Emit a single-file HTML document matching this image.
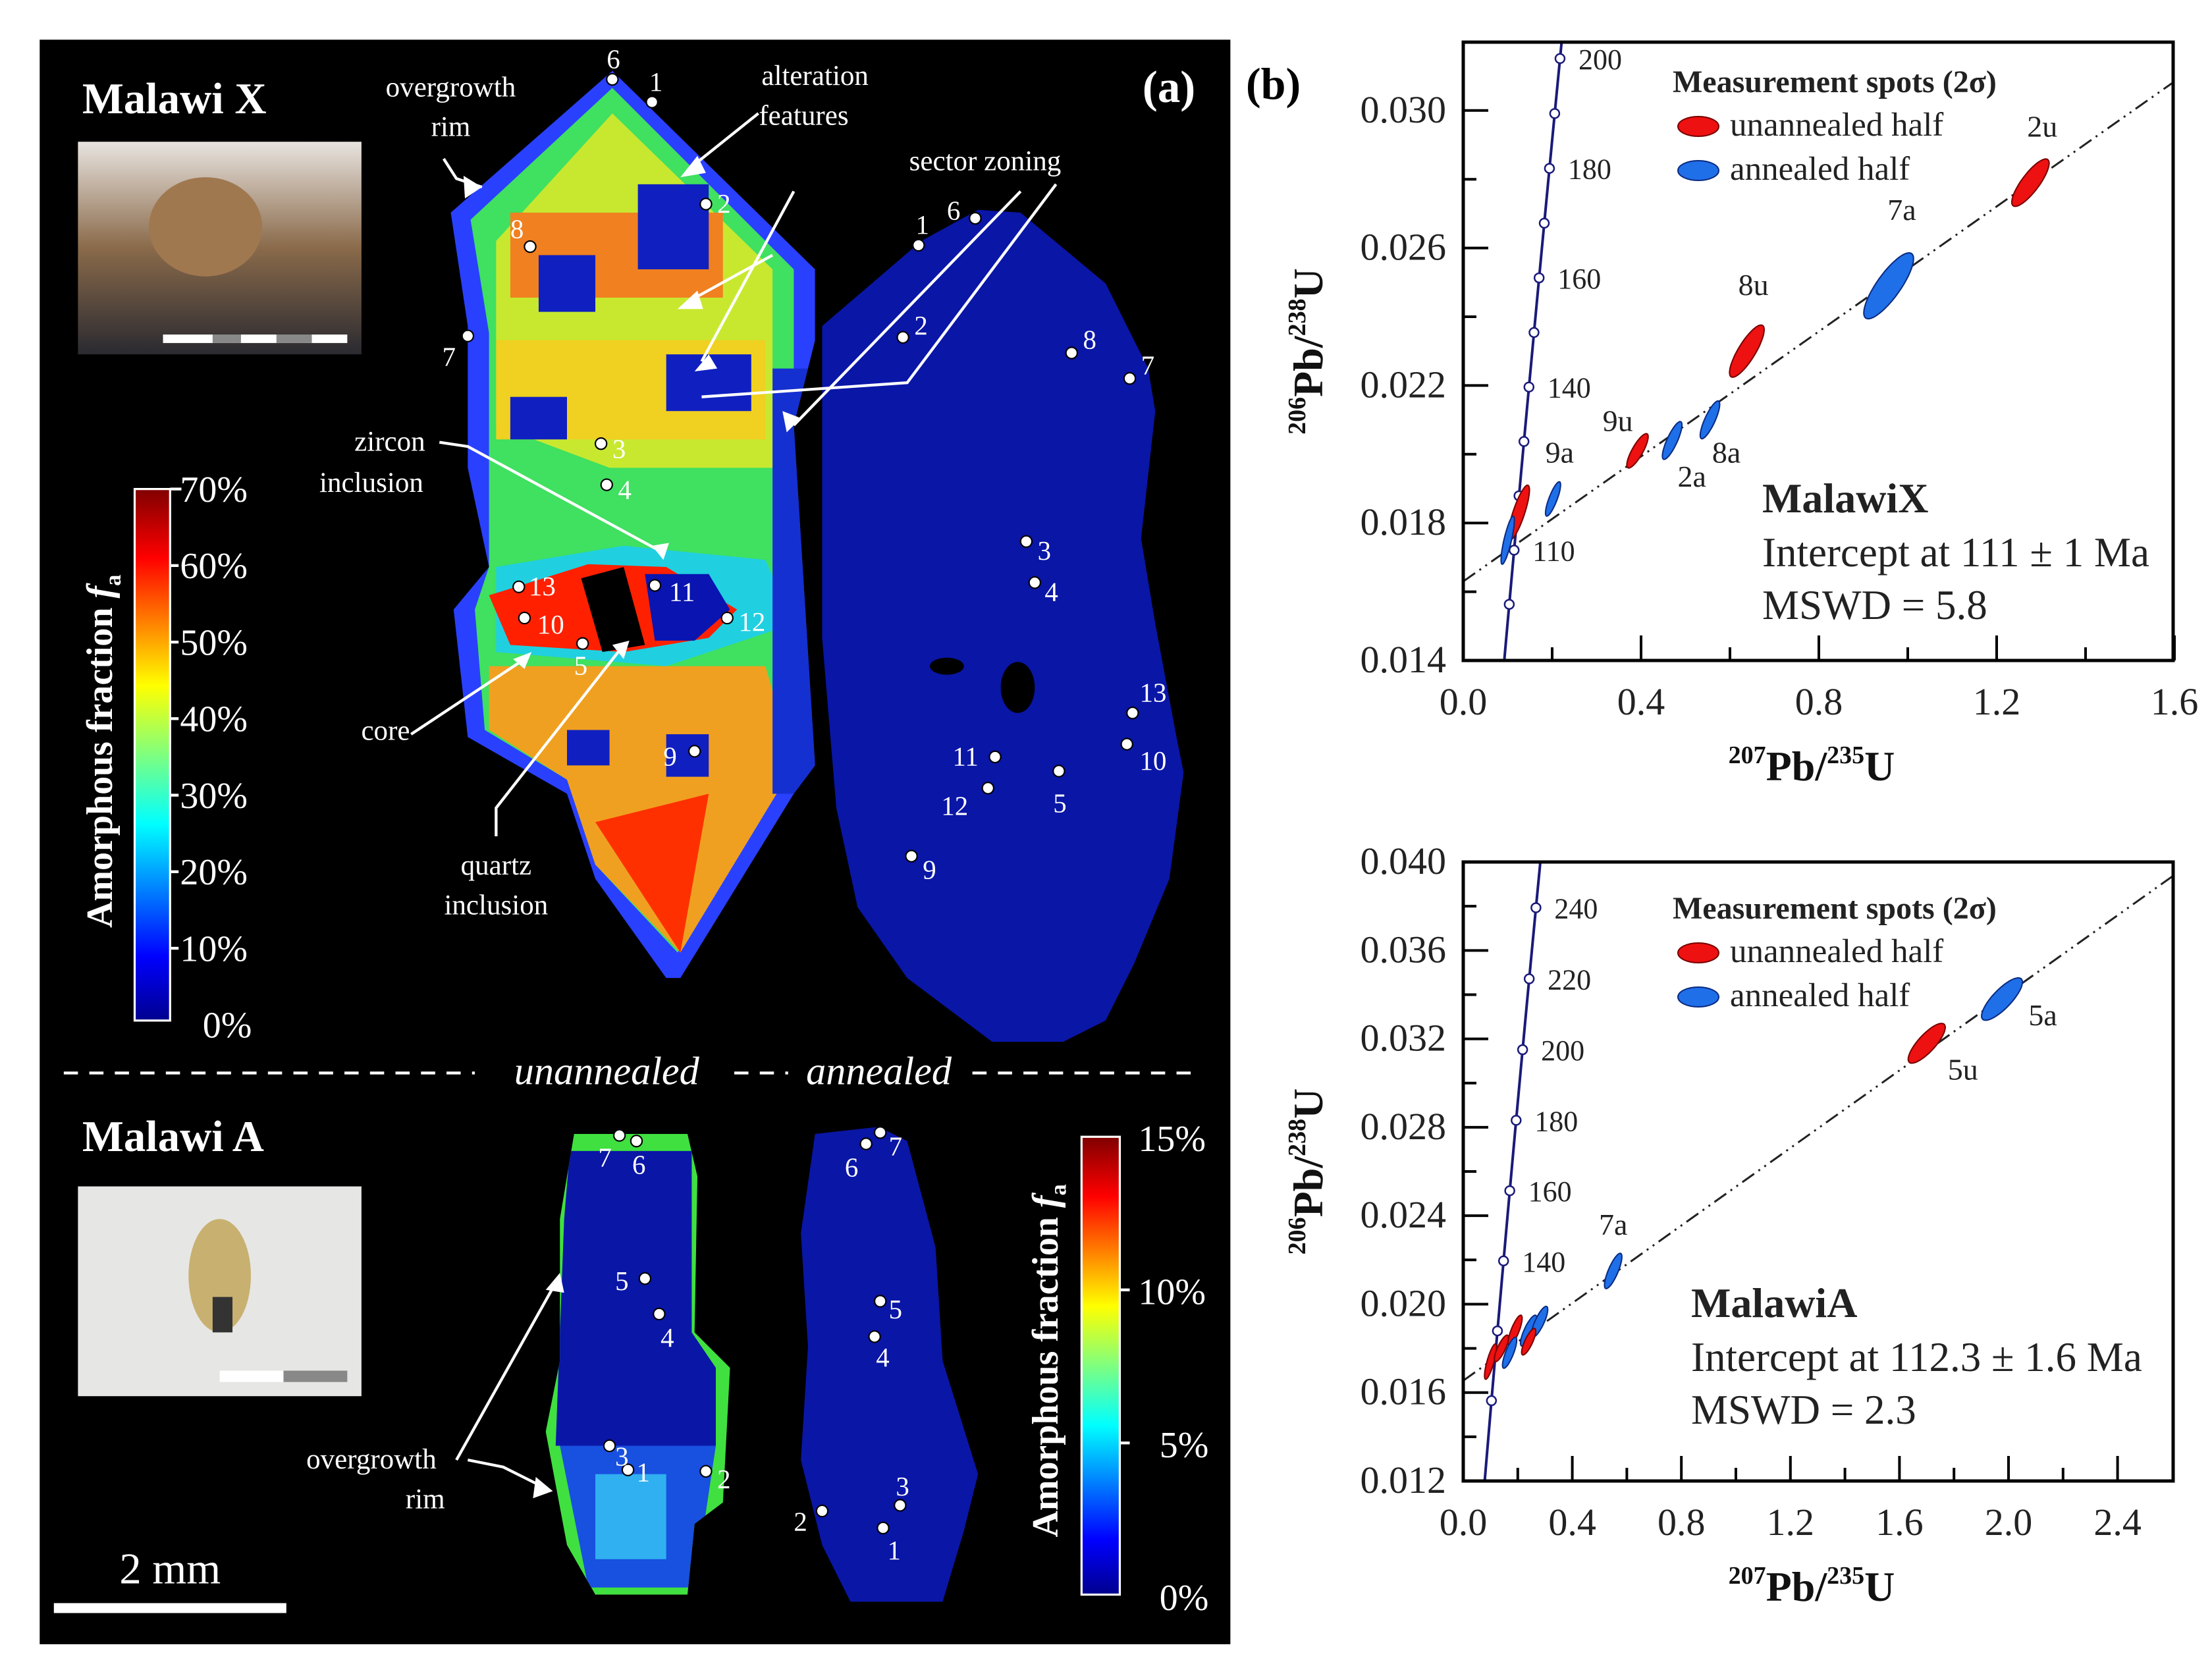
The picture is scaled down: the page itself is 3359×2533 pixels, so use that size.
<!DOCTYPE html>
<html><head><meta charset="utf-8">
<style>
html,body{margin:0;padding:0;background:#fff;}
svg{display:block;font-family:"Liberation Serif",serif;}
</style></head>
<body>
<svg id="fig" xmlns="http://www.w3.org/2000/svg" width="3359" height="2533" viewBox="0 0 3359 2533">
<defs>
<linearGradient id="jet" x1="0" y1="1" x2="0" y2="0">
<stop offset="0" stop-color="#00008f"/><stop offset="0.12" stop-color="#0000ff"/><stop offset="0.37" stop-color="#00ffff"/><stop offset="0.5" stop-color="#7fff7f"/><stop offset="0.63" stop-color="#ffff00"/><stop offset="0.87" stop-color="#ff0000"/><stop offset="1" stop-color="#800000"/>
</linearGradient>
<clipPath id="cx"><polygon points="432,50 575,190 575,240 560,300 575,540 560,560 480,690 470,690 420,620 400,560 330,520 320,430 345,400 330,330 330,230 318,150"/></clipPath>
<clipPath id="ca"><polygon points="405,800 485,800 492,830 490,940 515,965 510,1060 490,1075 485,1125 420,1125 400,1090 385,1010 395,960 395,860"/></clipPath>
<linearGradient id="photo1" x1="0" y1="0" x2="0" y2="1"><stop offset="0" stop-color="#e8e4e0"/><stop offset="0.5" stop-color="#8a6a4a"/><stop offset="1" stop-color="#2a2a30"/></linearGradient>
</defs>
<rect width="3359" height="2533" fill="#fff"/>
<g transform="scale(2.1525)">
<rect x="28" y="28" width="840" height="1132" fill="#000"/>
<g clip-path="url(#cx)">
<rect x="300" y="40" width="300" height="660" fill="#2a40ff"/>
<polygon points="432,62 560,190 560,540 478,672 420,610 400,550 342,515 335,430 345,400 345,235 332,155" fill="#40e060"/>
<polygon points="432,80 545,190 545,330 430,330 350,300 350,170" fill="#c8e830"/>
<rect x="360" y="150" width="150" height="60" fill="#f08020"/>
<rect x="350" y="240" width="190" height="70" fill="#f0d020"/>
<rect x="380" y="180" width="40" height="40" fill="#1020c0"/>
<rect x="450" y="130" width="50" height="60" fill="#1020c0"/>
<rect x="470" y="250" width="60" height="40" fill="#1020c0"/>
<rect x="360" y="280" width="40" height="30" fill="#1020c0"/>
<polygon points="350,400 440,385 540,395 560,440 470,470 350,460" fill="#20d0e0"/>
<polygon points="345,420 415,398 470,400 520,430 500,450 440,460 360,455" fill="#ff2000"/>
<polygon points="410,408 440,400 455,455 425,460" fill="#000"/>
<polygon points="455,405 500,405 515,430 490,452 462,452" fill="#0a14b0"/>
<polygon points="345,470 540,470 560,540 480,672 420,610 400,550 345,515" fill="#f0a020"/>
<polygon points="420,580 500,560 480,672" fill="#ff3000"/>
<rect x="400" y="515" width="30" height="25" fill="#1020c0"/>
<rect x="470" y="518" width="30" height="30" fill="#1020c0"/>
<rect x="545" y="260" width="35" height="300" fill="#1530d0"/>
</g>
<polygon points="580,230 650,170 690,148 720,150 780,200 810,260 815,290 805,380 815,440 830,520 835,545 825,620 800,680 780,720 750,735 700,735 640,690 605,640 590,570 580,450" fill="#0a16a6"/>
<ellipse cx="668" cy="470" rx="12" ry="6" fill="#000"/><ellipse cx="718" cy="485" rx="12" ry="18" fill="#000"/>
<g clip-path="url(#ca)">
<rect x="380" y="790" width="140" height="340" fill="#40e040"/>
<polygon points="402,812 488,812 488,940 505,965 505,1020 392,1020 398,860" fill="#0a16a6"/>
<polygon points="395,1020 505,1020 490,1120 415,1120" fill="#1850e0"/>
<rect x="420" y="1040" width="50" height="60" fill="#30b0f0"/>
</g>
<polygon points="575,800 620,795 640,805 660,880 665,960 690,1040 680,1080 665,1130 600,1130 580,1090 565,1030 570,950 565,870" fill="#0a16a6"/>
<rect x="55" y="100" width="200" height="150" fill="url(#photo1)"/>
<ellipse cx="145" cy="160" rx="40" ry="35" fill="#a07850"/>
<rect x="115" y="236" width="130" height="6" fill="#fff"/><rect x="150" y="236" width="20" height="6" fill="#888"/><rect x="195" y="236" width="25" height="6" fill="#888"/>
<rect x="55" y="837" width="200" height="148" fill="#e6e6e4"/>
<ellipse cx="155" cy="900" rx="22" ry="40" fill="#c8b070"/><rect x="150" y="915" width="14" height="25" fill="#333"/>
<rect x="155" y="967" width="45" height="8" fill="#fff"/><rect x="200" y="967" width="45" height="8" fill="#888"/>
<rect x="95" y="345" width="25" height="375" fill="url(#jet)" stroke="#fff" stroke-width="1.5"/>
<rect x="763" y="802" width="27" height="323" fill="url(#jet)" stroke="#fff" stroke-width="1.5"/>
<g fill="#fff" font-size="26">
<text x="127" y="354">70%</text><text x="127" y="408">60%</text><text x="127" y="462">50%</text><text x="127" y="516">40%</text><text x="127" y="570">30%</text><text x="127" y="624">20%</text><text x="127" y="678">10%</text><text x="143" y="732">0%</text>
<text x="803" y="812">15%</text><text x="803" y="920">10%</text><text x="818" y="1028">5%</text><text x="818" y="1136">0%</text>
</g>
<g stroke="#fff" stroke-width="2">
<line x1="120" y1="345" x2="128" y2="345"/><line x1="120" y1="399" x2="126" y2="399"/><line x1="120" y1="453" x2="126" y2="453"/><line x1="120" y1="507" x2="126" y2="507"/><line x1="120" y1="561" x2="126" y2="561"/><line x1="120" y1="615" x2="126" y2="615"/><line x1="120" y1="669" x2="126" y2="669"/>
<line x1="790" y1="910" x2="797" y2="910"/><line x1="790" y1="1018" x2="797" y2="1018"/>
</g>
<text transform="translate(79,530) rotate(-90)" text-anchor="middle" fill="#fff" font-size="26" font-weight="bold">Amorphous fraction <tspan font-style="italic">f</tspan><tspan font-size="16" dy="6">a</tspan></text>
<text transform="translate(746,960) rotate(-90)" text-anchor="middle" fill="#fff" font-size="26" font-weight="bold">Amorphous fraction <tspan font-style="italic">f</tspan><tspan font-size="16" dy="6">a</tspan></text>
<g fill="#fff">
<text x="58" y="80" font-size="31" font-weight="bold">Malawi X</text>
<text x="58" y="812" font-size="31" font-weight="bold">Malawi A</text>
<text x="806" y="72" font-size="32" font-weight="bold">(a)</text>
<g font-size="20" text-anchor="middle">
<text x="318" y="68">overgrowth</text><text x="318" y="96">rim</text>
<text x="575" y="60">alteration</text><text x="567" y="88">features</text>
<text x="695" y="120">sector zoning</text>
<text x="275" y="318">zircon</text><text x="262" y="347">inclusion</text>
<text x="272" y="522">core</text>
<text x="350" y="617">quartz</text><text x="350" y="645">inclusion</text>
<text x="262" y="1036">overgrowth</text><text x="300" y="1064">rim</text>
</g>
<text x="428" y="765" font-size="28" font-style="italic" text-anchor="middle">unannealed</text>
<text x="620" y="765" font-size="28" font-style="italic" text-anchor="middle">annealed</text>
<text x="120" y="1117" font-size="31" text-anchor="middle">2 mm</text>
</g>
<rect x="38" y="1131" width="164" height="7" fill="#fff"/>
<g stroke="#fff" stroke-width="2" stroke-dasharray="10,8">
<line x1="45" y1="757" x2="335" y2="757"/><line x1="518" y1="757" x2="556" y2="757"/><line x1="686" y1="757" x2="848" y2="757"/>
</g>
<g stroke="#fff" stroke-width="2" fill="none">
<polyline points="313,112 322,126 340,132"/><polyline points="535,80 485,120"/><polyline points="545,180 485,213"/><polyline points="560,135 495,255 "/><polyline points="745,130 640,270 495,280"/><polyline points="720,135 560,300"/>
<polyline points="310,312 330,315 468,390"/><polyline points="290,518 370,465"/><polyline points="350,590 350,570 440,455"/><polyline points="330,1030 355,1035 385,1050"/><polyline points="322,1030 392,905"/>
</g>
<g fill="#fff">
<polygon points="340,132 327,124 328,140"/><polygon points="480,125 492,110 498,122"/><polygon points="478,218 492,205 496,218"/><polygon points="490,262 500,250 506,260"/><polygon points="555,305 552,290 565,295"/><polygon points="468,395 460,385 472,383"/><polygon points="375,460 362,465 370,472"/><polygon points="444,452 432,455 440,465"/><polygon points="390,1052 378,1042 376,1057"/><polygon points="395,898 385,910 398,912"/>
</g>
<g fill="#fff" stroke="#000" stroke-width="1">
<circle cx="432" cy="56" r="4"/><circle cx="460" cy="72" r="4"/><circle cx="498" cy="144" r="4"/><circle cx="374" cy="174" r="4"/><circle cx="330" cy="237" r="4"/><circle cx="424" cy="313" r="4"/><circle cx="428" cy="342" r="4"/><circle cx="366" cy="414" r="4"/><circle cx="370" cy="436" r="4"/><circle cx="411" cy="454" r="4"/><circle cx="462" cy="413" r="4"/><circle cx="513" cy="436" r="4"/><circle cx="490" cy="530" r="4"/>
<circle cx="648" cy="173" r="4"/><circle cx="688" cy="154" r="4"/><circle cx="637" cy="238" r="4"/><circle cx="756" cy="249" r="4"/><circle cx="797" cy="267" r="4"/><circle cx="724" cy="382" r="4"/><circle cx="730" cy="411" r="4"/><circle cx="799" cy="503" r="4"/><circle cx="795" cy="525" r="4"/><circle cx="702" cy="534" r="4"/><circle cx="697" cy="556" r="4"/><circle cx="747" cy="544" r="4"/><circle cx="643" cy="604" r="4"/>
<circle cx="437" cy="801" r="4"/><circle cx="449" cy="805" r="4"/><circle cx="455" cy="902" r="4"/><circle cx="465" cy="927" r="4"/><circle cx="430" cy="1020" r="4"/><circle cx="443" cy="1037" r="4"/><circle cx="498" cy="1038" r="4"/>
<circle cx="621" cy="799" r="4"/><circle cx="611" cy="807" r="4"/><circle cx="621" cy="918" r="4"/><circle cx="617" cy="943" r="4"/><circle cx="635" cy="1062" r="4"/><circle cx="580" cy="1066" r="4"/><circle cx="623" cy="1078" r="4"/>
</g>
<g fill="#fff" font-size="19">
<text x="428" y="48">6</text><text x="458" y="64">1</text><text x="506" y="150">2</text><text x="360" y="168">8</text><text x="312" y="258">7</text><text x="432" y="323">3</text><text x="436" y="352">4</text><text x="373" y="420">13</text><text x="379" y="447">10</text><text x="405" y="476">5</text><text x="472" y="424">11</text><text x="521" y="445">12</text><text x="468" y="540">9</text>
<text x="646" y="165">1</text><text x="668" y="155">6</text><text x="645" y="236">2</text><text x="764" y="246">8</text><text x="805" y="264">7</text><text x="732" y="395">3</text><text x="737" y="424">4</text><text x="804" y="495">13</text><text x="804" y="543">10</text><text x="672" y="540">11</text><text x="664" y="575">12</text><text x="743" y="573">5</text><text x="651" y="620">9</text>
<text x="422" y="823">7</text><text x="446" y="828">6</text><text x="434" y="910">5</text><text x="466" y="950">4</text><text x="434" y="1034">3</text><text x="449" y="1045">1</text><text x="506" y="1050">2</text>
<text x="596" y="830">6</text><text x="627" y="815">7</text><text x="627" y="930">5</text><text x="618" y="964">4</text><text x="632" y="1055">3</text><text x="560" y="1080">2</text><text x="626" y="1100">1</text>
</g>
</g>
<text x="1892" y="150" font-size="68" font-weight="bold">(b)</text>
<g id="charts"></g>
<script>
// ===== top chart (Malawi X) data =====
var topYTicks = [0.014, 0.018, 0.022, 0.026, 0.030];
var topYTickLabels = ["0.014", "0.018", "0.022", "0.026", "0.030"];
var topXTicks = [0.0, 0.4, 0.8, 1.2, 1.6];
var topXTickLabels = ["0.0", "0.4", "0.8", "1.2", "1.6"];
var topAgeLabels = [110, 140, 160, 180, 200];
var topSpotNames = ["2u", "7a", "8u", "8a", "2a", "9u", "9a", "", ""];
var topSpotType = ["u", "a", "u", "a", "a", "u", "a", "u", "a"];
var topX207 = [1.276, 0.957, 0.638, 0.555, 0.470, 0.392, 0.202, 0.125, 0.100];
var topY206 = [0.0279, 0.0249, 0.0230, 0.0210, 0.0204, 0.0201, 0.0187, 0.0183, 0.0175];
var topSX = [0.042, 0.056, 0.039, 0.022, 0.022, 0.024, 0.017, 0.024, 0.015];
var topSY = [0.00069, 0.00096, 0.00076, 0.00055, 0.00055, 0.00050, 0.00050, 0.00080, 0.00070];
var topDiscordia = [0.0163, 0.00909];
// ===== bottom chart (Malawi A) data =====
var botYTicks = [0.012, 0.016, 0.020, 0.024, 0.028, 0.032, 0.036, 0.040];
var botYTickLabels = ["0.012", "0.016", "0.020", "0.024", "0.028", "0.032", "0.036", "0.040"];
var botXTicks = [0.0, 0.4, 0.8, 1.2, 1.6, 2.0, 2.4];
var botXTickLabels = ["0.0", "0.4", "0.8", "1.2", "1.6", "2.0", "2.4"];
var botAgeLabels = [140, 160, 180, 200, 220, 240];
var botSpotNames = ["5a", "5u", "7a", "", "", "", "", "", "", ""];
var botSpotType = ["a", "u", "a", "u", "u", "u", "a", "a", "a", "u"];
var botX207 = [1.976, 1.70, 0.55, 0.10, 0.14, 0.19, 0.17, 0.24, 0.28, 0.24];
var botY206 = [0.0338, 0.0318, 0.0215, 0.0174, 0.0180, 0.0188, 0.0178, 0.0188, 0.0192, 0.0183];
var botSX = [0.075, 0.068, 0.032, 0.022, 0.026, 0.026, 0.026, 0.030, 0.030, 0.026];
var botSY = [0.00096, 0.00090, 0.00080, 0.00080, 0.00060, 0.00070, 0.00070, 0.00070, 0.00070, 0.00060];
var botDiscordia = [0.01654, 0.00877];

var L238 = 1.55125e-4, L235 = 9.8485e-4;
var NS = "http://www.w3.org/2000/svg";
var root = document.getElementById("charts");
function mk(tag, attrs, parent) {
  var e = document.createElementNS(NS, tag);
  for (var k in attrs) e.setAttribute(k, attrs[k]);
  (parent || root).appendChild(e);
  return e;
}
function isoTitle(t, m1, a, m2, b) {
  var parts = [[m1, 38, -26], [a, 64, 26], [m2, 38, -26], [b, 64, 26]];
  parts.forEach(function (p) {
    var ts = mk("tspan", { "font-size": p[1], dy: p[2] }, t);
    ts.textContent = p[0];
  });
}
function chart(cfg) {
  var g = mk("g", {});
  
  
  var sx = function (v) { return cfg.x0 + v * cfg.kx; };
  var sy = function (v) { return cfg.yb - (v - cfg.ymin) * cfg.ky; };
  var clipId = cfg.name + "-clip";
  var cp = mk("clipPath", { id: clipId }, g);
  mk("rect", { x: cfg.x0, y: cfg.yt, width: cfg.xr - cfg.x0, height: cfg.yb - cfg.yt }, cp);
  var inner = mk("g", { "clip-path": "url(#" + clipId + ")" }, g);
  var xe = (cfg.xr - cfg.x0) / cfg.kx;
  var dl = mk("line", { x1: sx(0), y1: sy(cfg.disc[0]), x2: sx(xe), y2: sy(cfg.disc[0] + cfg.disc[1] * xe), stroke: "#222", "stroke-width": 3, "stroke-dasharray": "22,8,3,8,3,8" }, inner);
  
  
  var pts = [];
  for (var t = 60; t <= 300; t += 2) pts.push(sx(Math.exp(L235 * t) - 1) + "," + sy(Math.exp(L238 * t) - 1));
  var cl = mk("polyline", { points: pts.join(" "), fill: "none", stroke: "#1a1a7a", "stroke-width": 4 }, inner);
  
  
  for (var a = 100; a <= 260; a += cfg.ageStep) {
    var c = mk("circle", { cx: sx(Math.exp(L235 * a) - 1), cy: sy(Math.exp(L238 * a) - 1), r: 7, fill: "#fff", stroke: "#1a1a7a", "stroke-width": 2.5 }, inner);
    
    
  }
  cfg.ageLabels.forEach(function (a) {
    var tx = mk("text", { x: sx(Math.exp(L235 * a) - 1) + 28, y: sy(Math.exp(L238 * a) - 1) + 16, "font-size": 44, fill: "#222" }, g);
    tx.textContent = a;
    
    
  });
  cfg.xs.forEach(function (xv, i) {
    var cx = sx(xv), cy = sy(cfg.ys[i]), rx = cfg.sxs[i] * cfg.kx, ry = cfg.sys[i] * cfg.ky, rho = cfg.rho;
    var d = "";
    for (var k = 0; k <= 48; k++) {
      var th = k / 48 * 2 * Math.PI;
      var px = cx + rx * Math.cos(th);
      var py = cy - ry * (rho * Math.cos(th) + Math.sqrt(1 - rho * rho) * Math.sin(th));
      d += (k ? "L" : "M") + px.toFixed(1) + "," + py.toFixed(1);
    }
    var u = cfg.types[i] === "u";
    var el = mk("path", { d: d + "Z", fill: u ? "#ee1111" : "#1f6fe8", stroke: u ? "#700" : "#0a2a80", "stroke-width": 2 }, g);
    
    
    if (cfg.names[i]) {
      var off = cfg.labelOff[i];
      var lt = mk("text", { x: cx + off[0], y: cy + off[1], "font-size": 46, fill: "#222", "text-anchor": "middle" }, g);
      lt.textContent = cfg.names[i];
      
      
    }
  });
  mk("rect", { x: cfg.x0, y: cfg.yt, width: cfg.xr - cfg.x0, height: cfg.yb - cfg.yt, fill: "none", stroke: "#000", "stroke-width": 5 }, g);
  cfg.yTicks.forEach(function (v, i) {
    mk("line", { x1: cfg.x0, y1: sy(v), x2: cfg.x0 + 38, y2: sy(v), stroke: "#000", "stroke-width": 4 }, g);
    var mv = v + cfg.yStep / 2;
    if (sy(mv) > cfg.yt + 5) mk("line", { x1: cfg.x0, y1: sy(mv), x2: cfg.x0 + 20, y2: sy(mv), stroke: "#000", "stroke-width": 4 }, g);
    var t = mk("text", { x: cfg.x0 - 26, y: sy(v) + 18, "font-size": 58, "text-anchor": "end", fill: "#222" }, g);
    t.textContent = cfg.yLabels[i];
    
    
  });
  cfg.xTicks.forEach(function (v, i) {
    mk("line", { x1: sx(v), y1: cfg.yb, x2: sx(v), y2: cfg.yb - 38, stroke: "#000", "stroke-width": 4 }, g);
    var mv = v + cfg.xStep / 2;
    if (sx(mv) < cfg.xr - 5) mk("line", { x1: sx(mv), y1: cfg.yb, x2: sx(mv), y2: cfg.yb - 20, stroke: "#000", "stroke-width": 4 }, g);
    var t = mk("text", { x: sx(v), y: cfg.yb + 82, "font-size": 58, "text-anchor": "middle", fill: "#222" }, g);
    t.textContent = cfg.xLabels[i];
    
    
  });
  var xt = mk("text", { x: (cfg.x0 + cfg.xr) / 2 - 10, y: cfg.yb + 182, "font-size": 66, "font-weight": "bold", "text-anchor": "middle", fill: "#111" }, g);
  isoTitle(xt, "207", "Pb/", "235", "U");
  
  
  var yt = mk("text", { transform: "translate(2008," + ((cfg.yt + cfg.yb) / 2) + ") rotate(-90)", "font-size": 66, "font-weight": "bold", "text-anchor": "middle", fill: "#111" }, g);
  isoTitle(yt, "206", "Pb/", "238", "U");
  
  
  var lg = mk("g", {}, g);
  
  
  var lt0 = mk("text", { x: cfg.leg[0], y: cfg.leg[1], "font-size": 48, "font-weight": "bold", fill: "#222" }, lg);
  lt0.textContent = "Measurement spots (2σ)";
  [["unannealed half", "#ee1111", "#700"], ["annealed half", "#1f6fe8", "#0a2a80"]].forEach(function (e, i) {
    var yy = cfg.leg[1] + 66 + i * 67;
    mk("ellipse", { cx: cfg.leg[0] + 39, cy: yy - 14, rx: 31, ry: 15, fill: e[1], stroke: e[2], "stroke-width": 2 }, lg);
    var tt = mk("text", { x: cfg.leg[0] + 87, y: yy, "font-size": 51, fill: "#222" }, lg);
    tt.textContent = e[0];
    
    
  });
  var an = cfg.ann;
  var a1 = mk("text", { x: an[0], y: an[1], "font-size": 64, "font-weight": "bold", fill: "#222" }, g); a1.textContent = cfg.annText[0];
  var a2 = mk("text", { x: an[0], y: an[1] + 82, "font-size": 63, fill: "#222" }, g); a2.textContent = cfg.annText[1];
  var a3 = mk("text", { x: an[0], y: an[1] + 162, "font-size": 63, fill: "#222" }, g); a3.textContent = cfg.annText[2];
}
chart({ name: "malawi-x-concordia", x0: 2222, xr: 3300, yt: 64, yb: 1003, kx: 675, ky: 52200, ymin: 0.014, yStep: 0.004, xStep: 0.4, rho: 0.82,
  yTicks: topYTicks, yLabels: topYTickLabels, xTicks: topXTicks, xLabels: topXTickLabels, ageLabels: topAgeLabels, ageStep: 10,
  xs: topX207, ys: topY206, sxs: topSX, sys: topSY, types: topSpotType, names: topSpotNames,
  labelOff: [[18, -70], [20, -100], [10, -85], [25, 65], [30, 70], [-30, -30], [10, -55], [0, 0], [0, 0]],
  disc: topDiscordia, leg: [2540, 140], ann: [2676, 778], annText: ["MalawiX", "Intercept at 111 ± 1 Ma", "MSWD = 5.8"] });
chart({ name: "malawi-a-concordia", x0: 2222, xr: 3300, yt: 1309, yb: 2249, kx: 414, ky: 33570, ymin: 0.012, yStep: 0.004, xStep: 0.4, rho: 0.8,
  yTicks: botYTicks, yLabels: botYTickLabels, xTicks: botXTicks, xLabels: botXTickLabels, ageLabels: botAgeLabels, ageStep: 20,
  xs: botX207, ys: botY206, sxs: botSX, sys: botSY, types: botSpotType, names: botSpotNames,
  labelOff: [[62, 40], [55, 55], [0, -55], [0, 0], [0, 0], [0, 0], [0, 0], [0, 0], [0, 0], [0, 0]],
  disc: botDiscordia, leg: [2540, 1395], ann: [2568, 2000], annText: ["MalawiA", "Intercept at 112.3 ± 1.6 Ma", "MSWD = 2.3"] });
</script>
</svg>
</body></html>
